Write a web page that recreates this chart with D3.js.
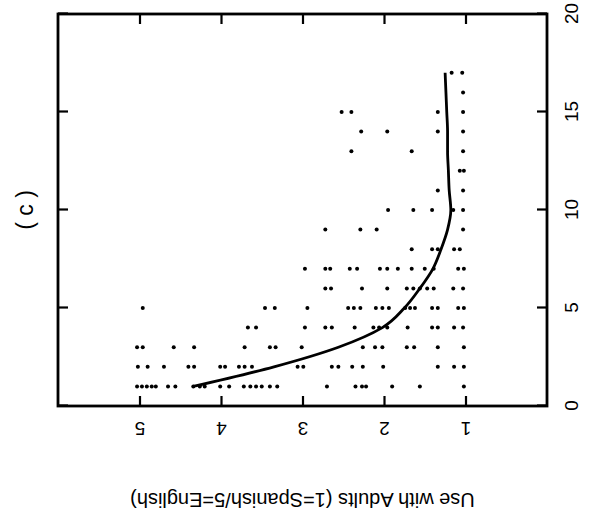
<!DOCTYPE html>
<html>
<head>
<meta charset="utf-8">
<script src="https://cdn.jsdelivr.net/npm/d3@7"></script>
<style>
  body { margin: 0; background: #fff; }
  text { font-family: "Liberation Sans", Arial, sans-serif; fill: #000; }
</style>
</head>
<body>
<div class="chart"></div>
<script>
// x positions of the rows of points (0-20 axis)
var rowX = [1, 2, 3, 4, 5, 6, 7, 8, 9, 10, 11, 12, 13, 14, 15, 16, 17];

// "Use with Adults" values
var rowUse = [
  [5.03, 4.97, 4.91, 4.85, 4.80, 4.65, 4.56, 4.34, 4.26, 4.20, 4.01, 3.90, 3.72, 3.64, 3.57, 3.50, 3.40, 3.31, 2.70, 2.35, 2.27, 2.22, 1.90, 1.56, 1.02],
  [5.02, 4.90, 4.70, 4.40, 4.33, 4.01, 3.95, 3.78, 3.71, 3.62, 3.06, 2.99, 2.64, 2.56, 2.39, 2.26, 2.01, 1.34, 1.14, 1.02],
  [5.03, 4.96, 4.58, 4.33, 3.71, 3.40, 3.33, 3.01, 2.26, 2.11, 2.02, 1.72, 1.63, 1.34, 1.02],
  [3.67, 3.57, 2.97, 2.72, 2.64, 2.36, 2.13, 2.06, 1.96, 1.71, 1.41, 1.34, 1.14, 1.03],
  [4.96, 3.46, 3.34, 2.94, 2.44, 2.37, 2.29, 2.10, 2.02, 1.94, 1.74, 1.68, 1.62, 1.41, 1.34, 1.09, 1.02],
  [2.72, 2.65, 2.27, 1.96, 1.72, 1.64, 1.56, 1.47, 1.39, 1.15, 1.03],
  [2.97, 2.72, 2.66, 2.42, 2.33, 2.05, 1.96, 1.83, 1.66, 1.50, 1.39, 1.09, 1.02],
  [1.66, 1.41, 1.34, 1.14, 1.07],
  [2.72, 2.29, 2.09, 1.03],
  [1.95, 1.64, 1.41, 1.15, 1.03],
  [1.34, 1.03],
  [1.07, 1.02],
  [2.40, 1.66, 1.03],
  [2.28, 1.96, 1.34, 1.03],
  [2.52, 2.40, 1.34, 1.03],
  [1.03],
  [1.17, 1.04]
];

// smoothed curve
var smoothX = [1, 2, 3, 4, 5, 6, 7, 8, 9, 10, 11, 12, 13, 14, 15, 16, 17];
var smoothUse = [4.34, 3.35, 2.56, 2.02, 1.75, 1.56, 1.40, 1.30, 1.22, 1.18, 1.20, 1.21, 1.22, 1.22, 1.23, 1.24, 1.25];

var xTicks = [0, 5, 10, 15, 20];
var yTicks = [1, 2, 3, 4, 5];

var svgWidth = 590;
var svgHeight = 522;

// plot is drawn upright, then turned a quarter turn like the scanned page
var width = 392;
var height = 489;

var svg = d3.select(".chart")
  .append("svg")
  .attr("width", svgWidth)
  .attr("height", svgHeight);

var chartGroup = svg.append("g")
  .attr("transform", "translate(58, 406) rotate(-90)");

var xScale = d3.scaleLinear().domain([0, 20]).range([0, width]);
var yScale = d3.scaleLinear().domain([0, 6]).range([height, 0]);

var points = [];
rowX.forEach(function(x, i) {
  rowUse[i].forEach(function(v) {
    points.push({ x: x, v: v });
  });
});

// axes, ticks pointing inward
var bottomAxis = chartGroup.append("g")
  .attr("transform", `translate(0, ${height})`)
  .call(d3.axisBottom(xScale).tickValues(xTicks).tickSizeInner(-10).tickSizeOuter(0)
    .tickPadding(18).tickFormat(d3.format("d")));

var leftAxis = chartGroup.append("g")
  .call(d3.axisLeft(yScale).tickValues(yTicks).tickSizeInner(-10).tickSizeOuter(0)
    .tickFormat(d3.format("d")));

chartGroup.append("g")
  .call(d3.axisTop(xScale).tickValues(xTicks).tickSizeInner(-10).tickSizeOuter(0).tickFormat(""));

chartGroup.append("g")
  .attr("transform", `translate(${width}, 0)`)
  .call(d3.axisRight(yScale).tickValues(yTicks).tickSizeInner(-10).tickSizeOuter(0).tickFormat(""));

chartGroup.selectAll(".domain").remove();
chartGroup.selectAll(".tick line")
  .attr("stroke", "#000")
  .attr("stroke-width", 2.2);

bottomAxis.selectAll("text")
  .style("font-size", "19px");

// y labels run along the axis
leftAxis.selectAll("text")
  .attr("x", null)
  .attr("dy", null)
  .attr("text-anchor", "middle")
  .attr("transform", "translate(-16, 0) rotate(-90)")
  .style("font-size", "19px");

chartGroup.append("rect")
  .attr("x", 0)
  .attr("y", 0)
  .attr("width", width)
  .attr("height", height)
  .attr("fill", "none")
  .attr("stroke", "#000")
  .attr("stroke-width", 2.8);

chartGroup.selectAll("circle")
  .data(points)
  .enter()
  .append("circle")
  .attr("cx", d => xScale(d.x))
  .attr("cy", d => yScale(d.v))
  .attr("r", 2)
  .attr("fill", "#000");

var line = d3.line()
  .x((d, i) => xScale(smoothX[i]))
  .y(d => yScale(d))
  .curve(d3.curveMonotoneX);

chartGroup.append("path")
  .datum(smoothUse)
  .attr("d", line)
  .attr("fill", "none")
  .attr("stroke", "#000")
  .attr("stroke-width", 2.8);

chartGroup.append("text")
  .attr("transform", `translate(-87, ${height / 2}) rotate(-90)`)
  .attr("text-anchor", "middle")
  .style("font-size", "20px")
  .text("Use with Adults (1=Spanish/5=English)");

chartGroup.append("text")
  .attr("x", width / 2)
  .attr("y", -25)
  .attr("text-anchor", "middle")
  .style("font-size", "23px")
  .text("( c )");
</script>
</body>
</html>
